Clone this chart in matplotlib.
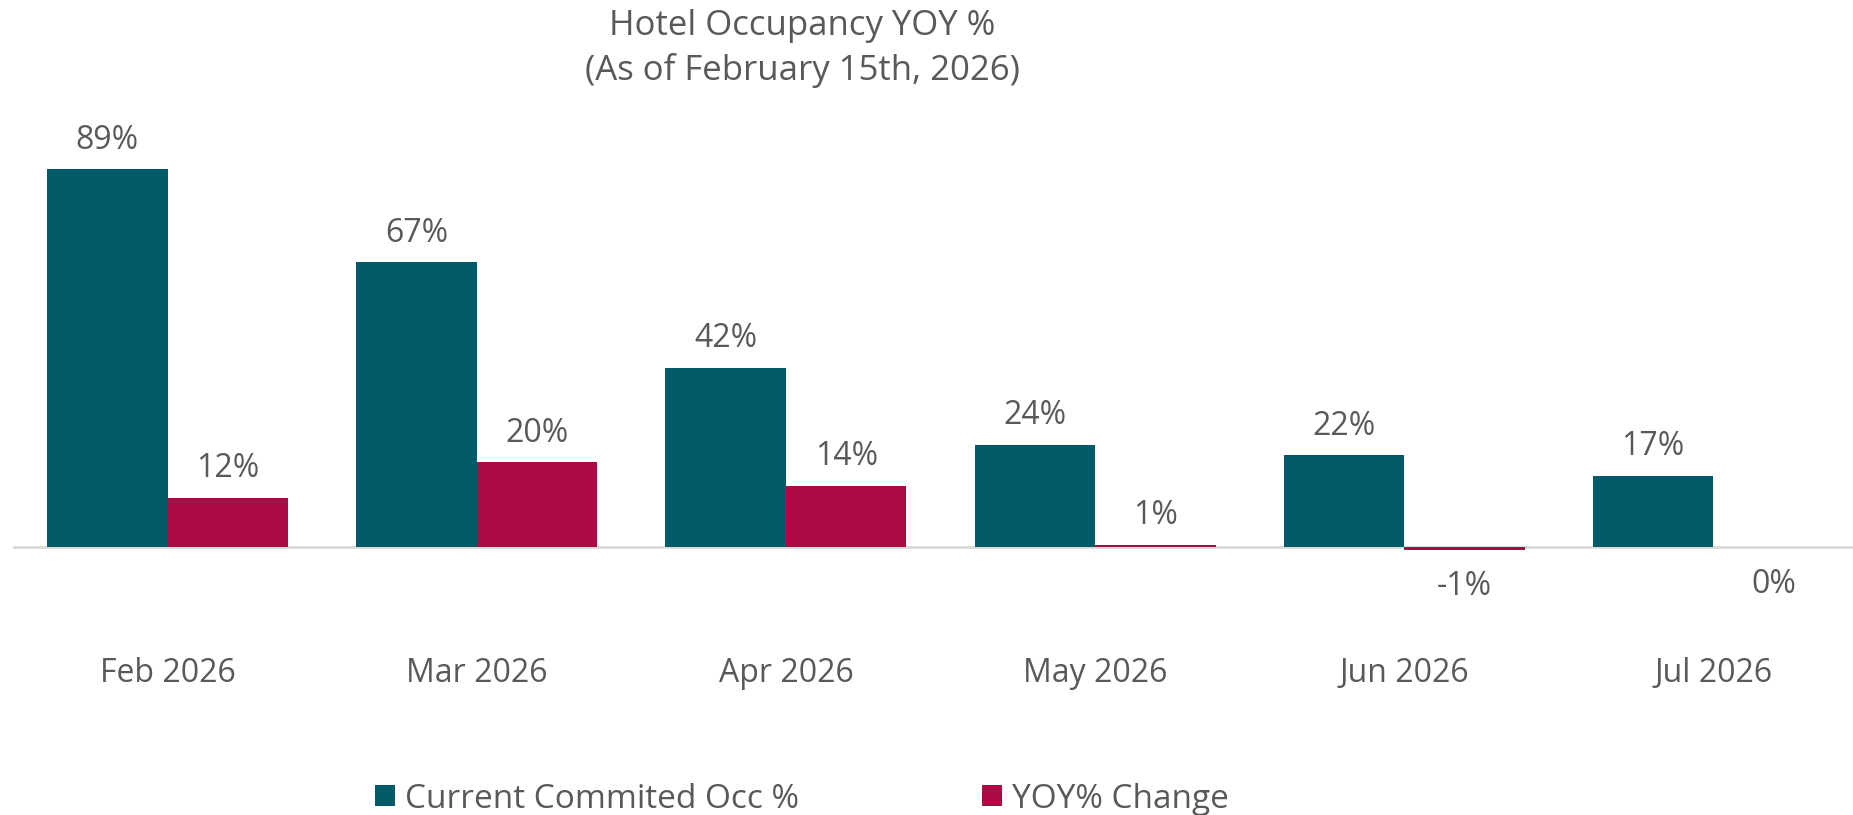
import matplotlib.pyplot as plt
import numpy as np

months = ['Feb 2026', 'Mar 2026', 'Apr 2026', 'May 2026', 'Jun 2026', 'Jul 2026']
occ = [88.9, 67.0, 42.2, 24.1, 21.6, 16.8]
yoy = [11.6, 20.0, 14.4, 0.6, -0.6, 0.0]
series_names = ['Current Commited Occ %', 'YOY% Change']

teal = '#025A69'
red = '#AD0A45'
grey = '#595959'

plt.rcParams['font.family'] = ['Open Sans', 'DejaVu Sans']

fig = plt.figure(figsize=(18.53, 8.15), dpi=100)
ax = fig.add_axes([13 / 1853, 1 - 590 / 815, 1855 / 1853, 460 / 815])

x = np.arange(len(months))
w = 0.39
b1 = ax.bar(x - w / 2, occ, w, color=teal, label=series_names[0])
b2 = ax.bar(x + w / 2, yoy, w, color=red, label=series_names[1])

ax.axhline(0, color='#D9D9D9', lw=2, zorder=0)
ax.set_xlim(-0.5, len(months) - 0.5)
ax.set_ylim(-10.1, 98.1)

for bars, vals in [(b1, occ), (b2, yoy)]:
    for b, v in zip(bars, vals):
        txt = '%d%%' % int(round(v))
        cx = b.get_x() + b.get_width() / 2
        if v > 0:
            ax.annotate(txt, (cx, v), xytext=(0, 9), textcoords='offset points',
                        ha='center', va='bottom', fontsize=23, color=grey)
        else:
            ax.annotate(txt, (cx, min(v, 0) - 0.6), xytext=(0, -13), textcoords='offset points',
                        ha='center', va='top', fontsize=23, color=grey)

ax.set_xticks(x)
ax.set_xticklabels(months, fontsize=23, color=grey)
ax.tick_params(axis='x', length=0, pad=48)
ax.set_yticks([])
for s in ax.spines.values():
    s.set_visible(False)

fig.text(802 / 1853, 1 - 26 / 815, 'Hotel Occupancy YOY %', ha='center', va='center',
         fontsize=25, color=grey)
fig.text(802 / 1853, 1 - 71 / 815, '(As of February 15th, 2026)', ha='center', va='center',
         fontsize=25, color=grey)

fig.legend(handles=[b1, b2], loc='center', bbox_to_anchor=(802 / 1853, 1 - 799 / 815),
           ncol=2, frameon=False, fontsize=24, labelcolor=grey, handlelength=0.6,
           handleheight=0.6, handletextpad=0.3, columnspacing=5.5)

plt.savefig('out.png', dpi=100)
